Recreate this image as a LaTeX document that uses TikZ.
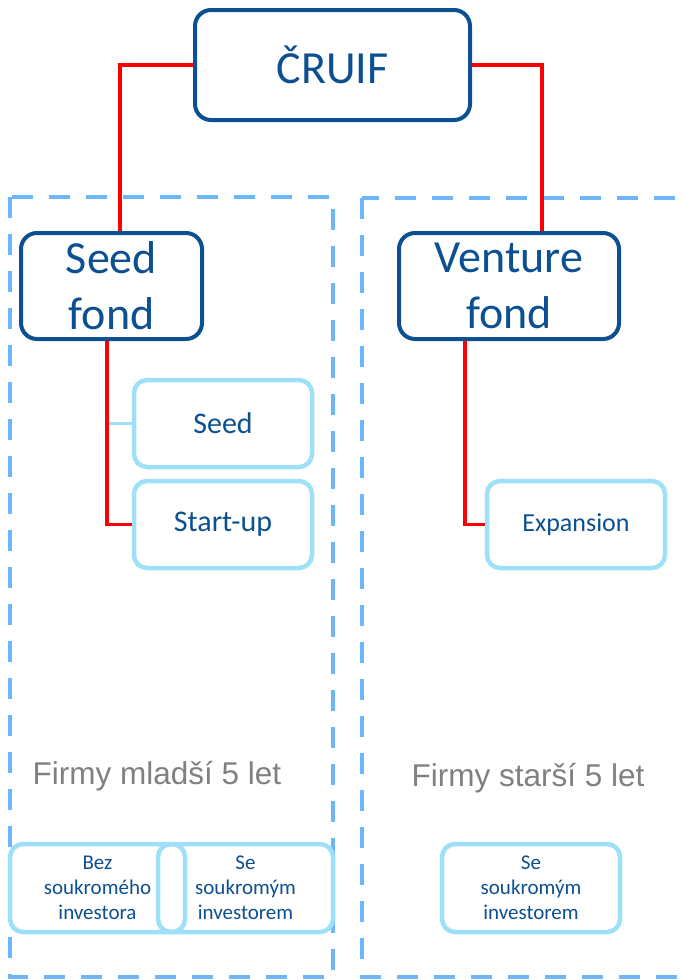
\documentclass[tikz,border=0pt]{standalone}
\usepackage{fontspec}
\setmainfont{Carlito}
\newfontfamily\grayfont{Liberation Sans}
\usepackage{xcolor}
\usetikzlibrary{positioning, calc}
\definecolor{fondblue}{RGB}{12,80,145}
\definecolor{pale}{RGB}{158,224,248}
\definecolor{dashblue}{RGB}{108,182,250}
\definecolor{firmgray}{RGB}{128,128,128}
\tikzstyle{link} = [line width=3.5pt, red]

\begin{document}
\begin{tikzpicture}[x=1pt, y=-1pt,
		topbox/.style={rectangle, draw=fondblue, line width=4pt, rounded corners=16pt, text=fondblue, align=center, inner sep=0pt, font=\fontsize{46}{56}\selectfont},
		stage/.style={rectangle, draw=pale, line width=4.5pt, rounded corners=13pt, text=fondblue, align=center, inner sep=0pt, minimum width=178pt, minimum height=87pt, font=\fontsize{30}{36}\selectfont},
		investor/.style={rectangle, draw=pale, line width=4.5pt, rounded corners=13pt, text=fondblue, align=center, inner sep=0pt, minimum width=175pt, minimum height=88pt, font=\fontsize{21}{25}\selectfont},
		group/.style={draw=dashblue, line width=4pt, dash pattern=on 21pt off 16pt},
		age/.style={text=firmgray, font=\grayfont\fontsize{31.5}{36}\selectfont}]
		
		\useasboundingbox (0,0) rectangle (685,980);
		
		% age groups
		\draw[group] (10,197) rectangle (333,977);
		\draw[group] (362,198) rectangle (720,977);
		
		\node (cruif) [topbox, minimum width=275pt, minimum height=110pt] at (332.5,65) {ČRUIF};
		\node (seedfond) [topbox, minimum width=181pt, minimum height=106pt] at (111.5,286) {Seed\\fond};
		\node (venture) [topbox, minimum width=220pt, minimum height=106pt] at (509,286) {Venture\\fond};
		
		\draw[link] (cruif.west) -| ([xshift=8.5pt]seedfond.north);
		\draw[link] (cruif.east) -| ([xshift=33pt]venture.north);
		
		\node (seed) [stage] at (223,423.5) {Seed};
		\node (startup) [stage] at (223,524.5) {Start-up};
		\node (expansion) [stage, font=\fontsize{26}{30}\selectfont] at (576,524.5) {Expansion};
		
		\coordinate (fork) at ([xshift=-4.5pt]seedfond.south);
		\draw[line width=3pt, pale] (seed.west) -- (seed.west -| fork);
		\draw[link] (fork) |- (startup.west);
		\draw[link] ([xshift=-44pt]venture.south) |- (expansion.west);
		
		\node (younger) [age] at (157,776) {Firmy mladší 5 let};
		\node (older) [age] at (528,778) {Firmy starší 5 let};
		
		\node (without) [investor] at (97.5,888) {Bez\\soukromého\\investora};
		\node (with) [investor] at (245.5,888) {Se\\soukromým\\investorem};
		\node (withold) [investor, minimum width=178pt] at (531,888) {Se\\soukromým\\investorem};
	\end{tikzpicture}
\end{document}
